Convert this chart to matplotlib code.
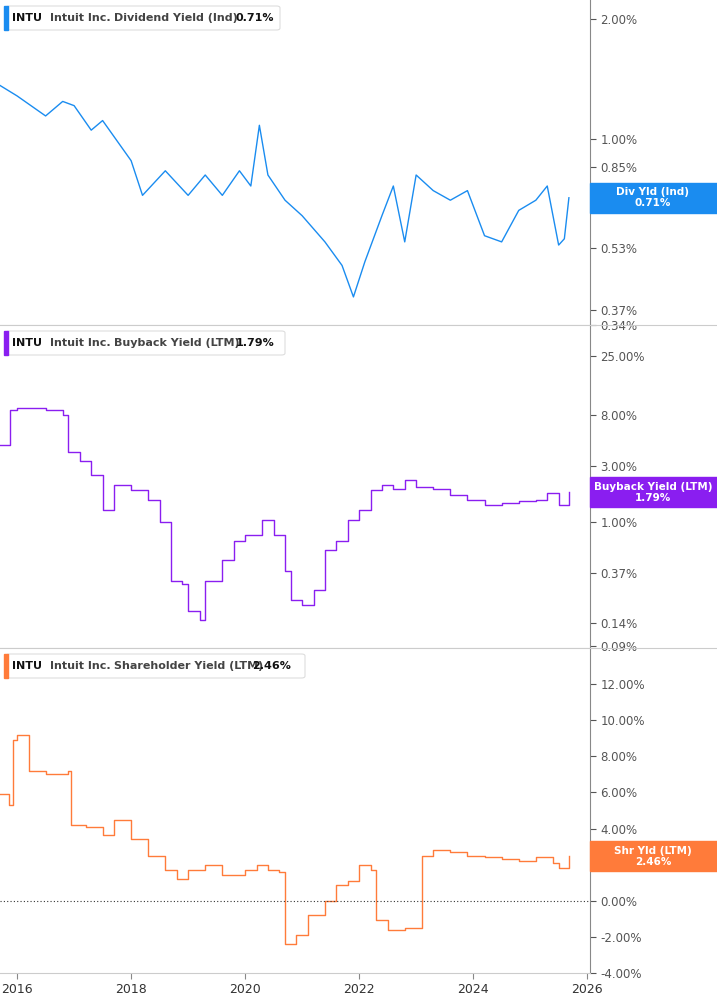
import matplotlib
matplotlib.use("Agg")
import matplotlib.pyplot as plt
import matplotlib.ticker as mt
from matplotlib.patches import FancyBboxPatch, Rectangle

div_x = [2015.70,2016.0,2016.5,2016.8,2017.0,2017.3,2017.5,2018.0,2018.2,2018.6,2019.0,2019.3,2019.6,2019.9,2020.1,2020.25,2020.4,2020.7,2021.0,2021.4,2021.7,2021.9,2022.1,2022.4,2022.6,2022.8,2023.0,2023.3,2023.6,2023.9,2024.2,2024.5,2024.8,2025.1,2025.3,2025.5,2025.6,2025.68]
div_y = [1.36,1.28,1.14,1.24,1.21,1.05,1.11,0.88,0.72,0.83,0.72,0.81,0.72,0.83,0.76,1.08,0.81,0.70,0.64,0.55,0.48,0.40,0.49,0.64,0.76,0.55,0.81,0.74,0.70,0.74,0.57,0.55,0.66,0.70,0.76,0.54,0.56,0.71]

bb_x = [2015.70,2015.88,2016.0,2016.5,2016.8,2016.9,2017.1,2017.3,2017.5,2017.7,2018.0,2018.3,2018.5,2018.7,2018.9,2019.0,2019.2,2019.3,2019.6,2019.8,2020.0,2020.3,2020.5,2020.7,2020.8,2021.0,2021.2,2021.4,2021.6,2021.8,2022.0,2022.2,2022.4,2022.6,2022.8,2023.0,2023.3,2023.6,2023.9,2024.2,2024.5,2024.8,2025.1,2025.3,2025.5,2025.68]
bb_y = [4.46,8.8,9.1,8.8,8.0,3.9,3.3,2.5,1.26,2.05,1.86,1.53,1.0,0.32,0.30,0.18,0.15,0.32,0.48,0.70,0.78,1.04,0.78,0.39,0.22,0.20,0.27,0.58,0.70,1.04,1.26,1.86,2.05,1.9,2.26,2.0,1.9,1.69,1.53,1.39,1.45,1.5,1.55,1.76,1.39,1.79]

sh_x = [2015.70,2015.85,2015.92,2016.0,2016.2,2016.5,2016.9,2016.95,2017.2,2017.5,2017.7,2018.0,2018.3,2018.6,2018.8,2019.0,2019.3,2019.6,2019.8,2020.0,2020.2,2020.4,2020.6,2020.7,2020.9,2021.1,2021.4,2021.6,2021.8,2022.0,2022.2,2022.3,2022.5,2022.8,2023.0,2023.1,2023.3,2023.6,2023.9,2024.2,2024.5,2024.8,2025.1,2025.4,2025.5,2025.68]
sh_y = [5.9,5.3,8.9,9.2,7.2,7.0,7.2,4.2,4.1,3.65,4.5,3.4,2.5,1.7,1.2,1.7,2.0,1.4,1.4,1.7,2.0,1.7,1.6,-2.4,-1.9,-0.8,0.0,0.9,1.1,2.0,1.7,-1.05,-1.6,-1.5,-1.5,2.5,2.8,2.7,2.5,2.4,2.3,2.2,2.4,2.1,1.8,2.46]

years = [2016,2018,2020,2022,2024,2026]
t1 = [2.0,1.0,0.85,0.68,0.53,0.37,0.34]
t2 = [25,8,3,1,0.37,0.14,0.09]
t3 = [12,10,8,6,4,2,0,-2,-4]

fig = plt.figure(figsize=(7.17,10.05), dpi=100)
W, H = 717, 1005
def ax_at(top, bot):
    return fig.add_axes([0, 1-bot/H, 590/W, (bot-top)/H])

specs = [
    (0,325,div_x,div_y,"#1a8cf0",'log',(0.34,2.23),t1,"Dividend Yield (Ind)","0.71%",235,280,"Div Yld (Ind)",0.71),
    (325,648,bb_x,bb_y,"#8a1ef0",'log',(0.087,46),t2,"Buyback Yield (LTM)","1.79%",236,285,"Buyback Yield (LTM)",1.79),
    (648,973,sh_x,sh_y,"#ff7b3a",'linear',(-4,14),t3,"Shareholder Yield (LTM)","2.46%",252,305,"Shr Yld (LTM)",2.46),
]
for i,(top,bot,x,y,c,sc,yl,ticks,name,val,vx,bx,lab,last) in enumerate(specs):
    ax = ax_at(top,bot)
    ax.set_yscale(sc)
    ax.set_ylim(*yl)
    ax.set_xlim(2015.70,2026.05)
    ax.plot(x,y,color=c,lw=1.0,drawstyle='steps-post' if i>0 else 'default')
    for s in ['left','top']:
        ax.spines[s].set_visible(False)
    ax.spines['right'].set_color('#888888')
    ax.spines['bottom'].set_color('#cccccc')
    ax.yaxis.tick_right()
    ax.yaxis.set_minor_locator(mt.NullLocator())
    ax.set_yticks(ticks)
    ax.set_yticklabels([f"{t:.2f}%" for t in ticks])
    ax.tick_params(axis='y',labelsize=8.5,colors='#555555',length=4,labelcolor='#555555')
    ax.set_xticks(years)
    if i<2:
        ax.tick_params(axis='x',length=0,labelbottom=False)
    else:
        ax.set_xticklabels([str(v) for v in years])
        ax.tick_params(axis='x',labelsize=9,colors='#888888',labelcolor='#333333',length=4)
        ax.axhline(0,color='#333333',lw=0.8,ls=(0,(1,2)))
    # header box (pixel positions converted to axes fraction)
    hb = 1 - 30/(bot-top)
    hh = 24/(bot-top)
    ax.add_patch(FancyBboxPatch((6/590,hb),(bx-6)/590,hh,boxstyle="round,pad=0,rounding_size=0.006",
                 transform=ax.transAxes,fc='white',ec='#dddddd',lw=0.8,zorder=5,clip_on=False))
    ax.add_patch(Rectangle((4/590,hb),4/590,hh,transform=ax.transAxes,color=c,zorder=6,clip_on=False))
    yc = hb+hh/2
    for px,txt,col in [(12,"INTU",'#111111'),(50,"Intuit Inc.",'#444444'),(114,name,'#444444'),(vx,val,'#111111')]:
        ax.text(px/590,yc,txt,transform=ax.transAxes,fontsize=8,fontweight='bold',color=col,va='center',zorder=7)
    # right label
    fig.canvas.draw()
    ydisp = ax.transData.transform((2020,last))[1]
    fig.add_artist(Rectangle((590/W,(ydisp-15)/H),127/W,30/H,transform=fig.transFigure,color=c,zorder=8))
    fig.text(653/W,ydisp/H,f"{lab}\n{last:.2f}%",ha='center',va='center',fontsize=7.5,fontweight='bold',
             color='white',linespacing=1.15,zorder=9)
fig.add_artist(plt.Line2D([0,1],[1-325/H,1-325/H],color='#cccccc',lw=0.8))
fig.add_artist(plt.Line2D([0,1],[1-648/H,1-648/H],color='#cccccc',lw=0.8))
fig.savefig("out.png",dpi=100)
